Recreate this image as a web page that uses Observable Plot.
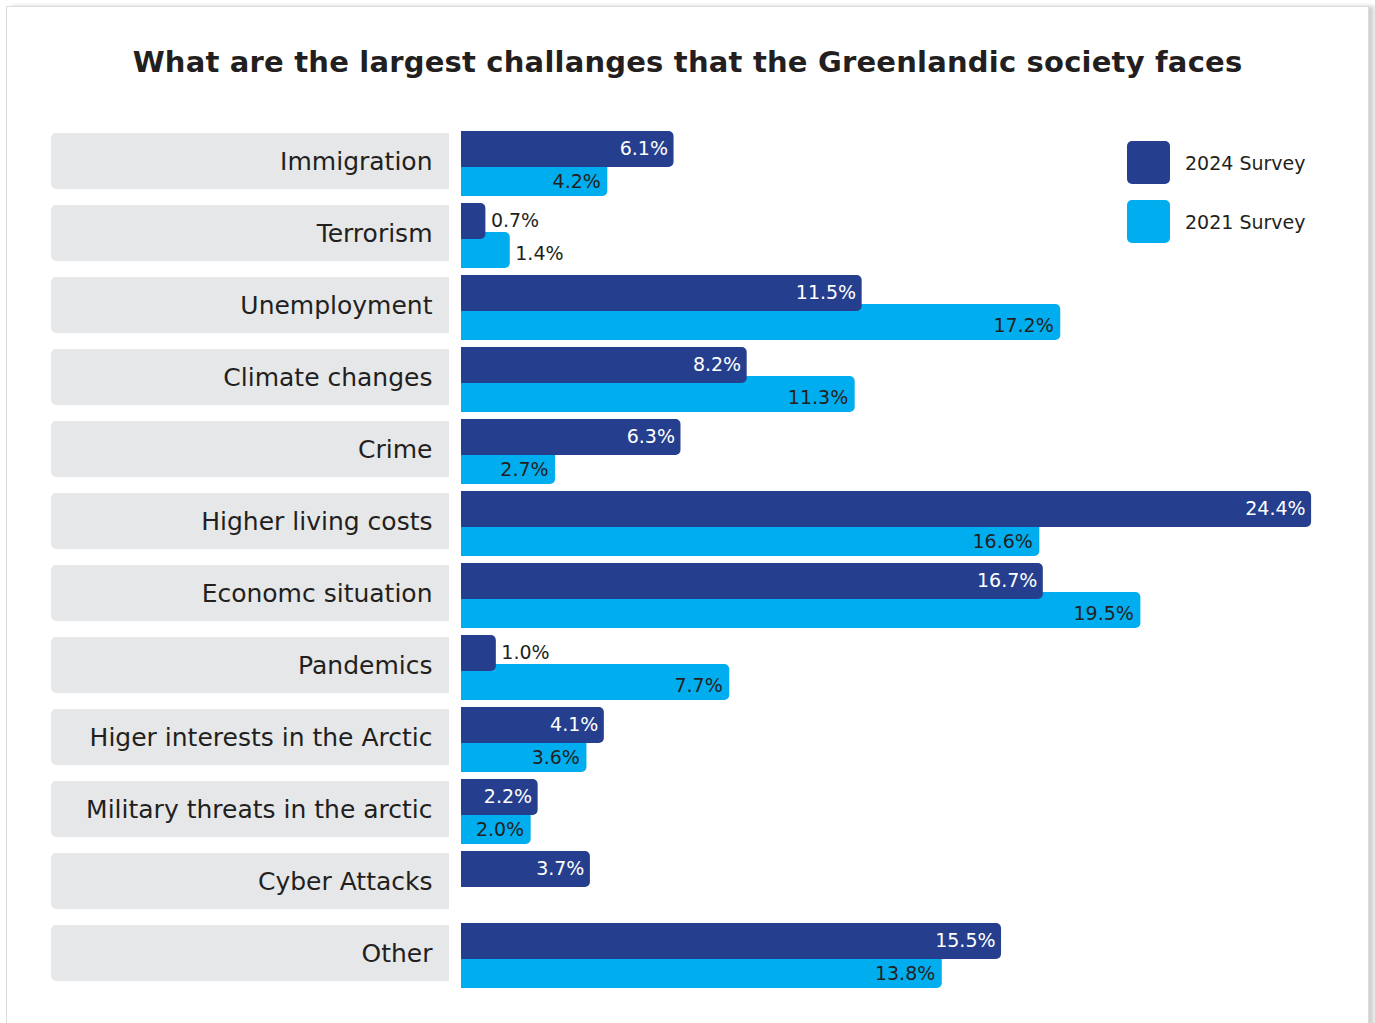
<!DOCTYPE html>
<html>
<head>
<meta charset="utf-8">
<script src="https://cdn.jsdelivr.net/npm/d3@7"></script>
<script src="https://cdn.jsdelivr.net/npm/@observablehq/plot@0.6"></script>
<style>
  html, body { margin: 0; padding: 0; background: #fff; }
  #page { position: relative; width: 1375px; height: 1023px; overflow: hidden; font-family: "DejaVu Sans", sans-serif; color: #231F20; }
  #card { position: absolute; left: 6px; top: 6px; width: 1361px; height: 1100px; border: 1px solid #dcdcdc; box-shadow: 5px 0 4px rgba(0,0,0,0.18); background: #fff; }
  #title { position: absolute; left: 0; width: 1375px; top: 45px; text-align: center; font-size: 29px; font-weight: bold; letter-spacing: 0.2px; }
  #chart { position: absolute; left: 0; top: 0; }
  #legend { position: absolute; left: 1127px; top: 141px; }
  .lg { display: flex; align-items: center; height: 43px; margin-bottom: 16px; }
  .sw { width: 43px; height: 43px; border-radius: 5px; margin-right: 15px; }
  .lt { font-size: 19px; }
</style>
</head>
<body>
<div id="page">
  <div id="card"></div>
  <div id="chart"></div>
  <div id="title">What are the largest challanges that the Greenlandic society faces</div>
  <div id="legend"></div>
</div>
<script>
const categories = ["Immigration", "Terrorism", "Unemployment", "Climate changes", "Crime", "Higher living costs", "Economc situation", "Pandemics", "Higer interests in the Arctic", "Military threats in the arctic", "Cyber Attacks", "Other"];
const values2024 = [6.1, 0.7, 11.5, 8.2, 6.3, 24.4, 16.7, 1.0, 4.1, 2.2, 3.7, 15.5];
const values2021 = [4.2, 1.4, 17.2, 11.3, 2.7, 16.6, 19.5, 7.7, 3.6, 2.0, null, 13.8];
const seriesNames = ["2024 Survey", "2021 Survey"];
const seriesColors = ["#253F8E", "#00AEEF"];

const d24 = categories.map((c, i) => ({cat: c, v: values2024[i]})).filter(d => d.v != null);
const d21 = categories.map((c, i) => ({cat: c, v: values2021[i]})).filter(d => d.v != null);
const fmt = v => v.toFixed(1) + "%";
const TH = 1.5; // labels go outside bars shorter than this

const W = 1375, H = 1023;
const boxRight = 449;

const plot = Plot.plot({
  width: W,
  height: H,
  marginLeft: 51,
  marginRight: 0,
  marginTop: 0,
  marginBottom: 0,
  x: {domain: [0, 25], range: [461, 461 + 25 * 34.84], axis: null},
  y: {type: "band", domain: categories, range: [128, 992], padding: 0, axis: null},
  style: {fontFamily: "DejaVu Sans, sans-serif", background: "transparent"},
  marks: [
    Plot.cell(categories, {y: d => d, fill: "#E6E7E9", insetTop: 5, insetBottom: 11, insetRight: W - boxRight, rx1: 5}),
    Plot.text(categories, {y: d => d, frameAnchor: "left", dx: 381, dy: -3, textAnchor: "end", text: d => d, fontSize: 25, fill: "#231F20"}),
    Plot.barX(d21, {x: "v", y: "cat", fill: seriesColors[1], insetTop: 32, insetBottom: 4, rx2: 5}),
    Plot.barX(d24, {x: "v", y: "cat", fill: seriesColors[0], insetTop: 3, insetBottom: 33, rx2: 5}),
    Plot.text(d24, {x: "v", y: "cat", text: d => fmt(d.v), dy: -16, fontSize: 19,
      textAnchor: "end", filter: d => d.v >= TH, fill: "#fff", dx: -6}),
    Plot.text(d24, {x: "v", y: "cat", text: d => fmt(d.v), dy: -16, fontSize: 19,
      textAnchor: "start", filter: d => d.v < TH, fill: "#231F20", dx: 5}),
    Plot.text(d21, {x: "v", y: "cat", text: d => fmt(d.v), dy: 17, fontSize: 19,
      textAnchor: "end", filter: d => d.v >= TH, fill: "#231F20", dx: -7}),
    Plot.text(d21, {x: "v", y: "cat", text: d => fmt(d.v), dy: 17, fontSize: 19,
      textAnchor: "start", filter: d => d.v < TH, fill: "#231F20", dx: 5})
  ]
});
document.getElementById("chart").appendChild(plot);

const lg = document.getElementById("legend");
seriesNames.forEach((n, i) => {
  const row = document.createElement("div");
  row.className = "lg";
  row.innerHTML = `<div class="sw" style="background:${seriesColors[i]}"></div><div class="lt">${n}</div>`;
  lg.appendChild(row);
});
</script>
</body>
</html>
